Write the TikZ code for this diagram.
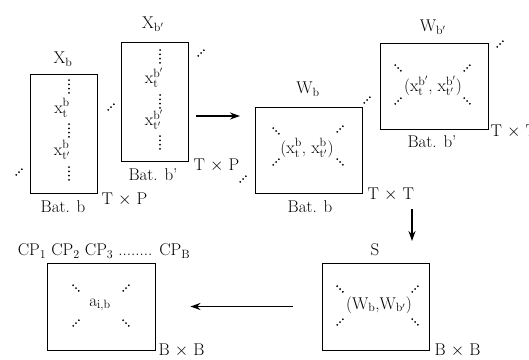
\documentclass[tikz,border=0pt]{standalone}
\usepackage{amsmath}
\usetikzlibrary{arrows.meta,positioning}

\tikzset{
  mat/.style={draw,line width=0.9pt,inner sep=0pt},
  arr/.style={line width=1.6pt,-{Stealth[length=10pt,width=7pt]}},
  updots/.pic={\foreach \i in {-1,0,1} \fill (\i*2.8,-\i*2.8) circle (1pt);},
  dndots/.pic={\foreach \i in {-1,0,1} \fill (\i*2.8,\i*2.8) circle (1pt);},
  coldots/.pic={\foreach \i in {0,...,3} \fill (0,\i*4.3) circle (1pt);}
}
\newcommand{\xv}[2]{$\mathrm{x}_{\mathrm{#1}}^{\mathrm{#2}}$}

\begin{document}
\begin{tikzpicture}[x=1pt,y=-1pt,font=\fontsize{17}{20}\selectfont]
  \useasboundingbox (0,0) rectangle (529,359);

  % batch b
  \node[mat,minimum width=67,minimum height=119] (xb) at (63.5,133.5) {};
  \node at (63,59) {X$_\mathrm{b}$};
  \node at (63,207) {Bat. b};
  \node[anchor=west] at (98,199) {T $\times$ P};
  \pic at (69,80) {coldots};
  \node at (62,108) {\xv{t}{b}};
  \pic at (69,124) {coldots};
  \node at (62,150) {\xv{t'}{b}};
  \pic at (69,167) {coldots};
  \pic at (19,172) {updots};
  \pic at (111,107) {updots};

  % batch b'
  \node[mat,minimum width=67,minimum height=119] (xbp) at (154.5,101.5) {};
  \node at (153,24) {X$_{\mathrm{b}'}$};
  \node at (153,175) {Bat. b'};
  \node[anchor=west] at (190,165) {T $\times$ P};
  \pic at (160,50) {coldots};
  \node at (154,78) {\xv{t}{b'}};
  \pic at (160,95) {coldots};
  \node at (154,120) {\xv{t'}{b'}};
  \pic at (160,136) {coldots};
  \pic at (201,53) {updots};

  % W_b
  \node[mat,minimum width=107,minimum height=86] (wb) at (308.5,150) {};
  \node at (308,89) {W$_\mathrm{b}$};
  \node at (310,207) {Bat. b};
  \node[anchor=west] at (364,194) {T $\times$ T};
  \node at (307,148) {(\xv{t}{b}, \xv{t'}{b})};
  \pic at (276,131) {dndots};
  \pic at (276,162) {updots};
  \pic at (340,129) {updots};
  \pic at (340,162) {dndots};
  \pic at (243,179) {updots};
  \pic at (367,100) {updots};

  % W_b'
  \node[mat,minimum width=108,minimum height=86] (wbp) at (434,86) {};
  \node at (433,27) {W$_{\mathrm{b}'}$};
  \node at (432,142) {Bat. b'};
  \node[anchor=west] at (487,131) {T $\times$ T};
  \node at (433,86) {(\xv{t}{b'}, \xv{t'}{b'})};
  \pic at (398,68) {dndots};
  \pic at (398,101) {updots};
  \pic at (467,68) {updots};
  \pic at (467,101) {dndots};
  \pic at (500,44) {updots};

  % S
  \node[mat,minimum width=107,minimum height=87] (smat) at (375.5,306.5) {};
  \node at (375,250) {S};
  \node[anchor=west] at (431,350) {B $\times$ B};
  \node at (379,305) {(W$_\mathrm{b}$,W$_{\mathrm{b}'}$)};
  \pic at (340,289) {dndots};
  \pic at (340,322) {updots};
  \pic at (415,289) {updots};
  \pic at (415,322) {dndots};

  % A
  \node[mat,minimum width=108,minimum height=87] (amat) at (101,306.5) {};
  \node at (104,251) {CP$_1$ CP$_2$ CP$_3$ ........ CP$_\mathrm{B}$};
  \node[anchor=west] at (155,350) {B $\times$ B};
  \node at (100,305) {a$_{\mathrm{i,b}}$};
  \pic at (76,288) {dndots};
  \pic at (76,323) {updots};
  \pic at (126,288) {updots};
  \pic at (126,323) {dndots};

  % arrows
  \coordinate (r1) at (196,116);
  \coordinate (r2) at (240,116);
  \coordinate (d1) at (412,209);
  \coordinate (d2) at (412,241);
  \draw[arr] (r1) -- (r2);
  \draw[arr] (d1) -- (d2);
  \draw[arr] ([xshift=-29]smat.west) -- ([xshift=35]amat.east);
\end{tikzpicture}
\end{document}
